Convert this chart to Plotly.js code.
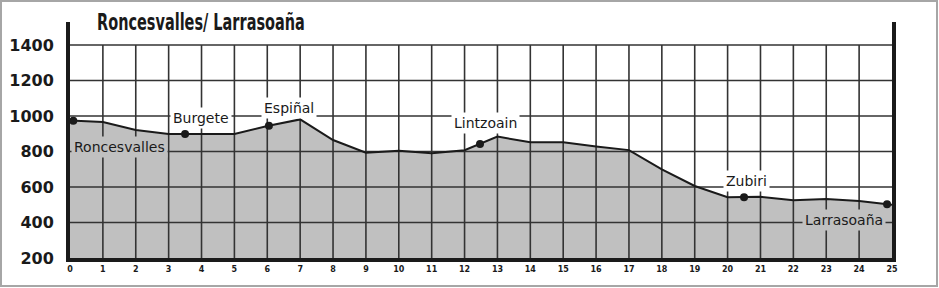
<!DOCTYPE html>
<html>
<head>
<meta charset="utf-8">
<script src="https://cdn.plot.ly/plotly-3.0.1.min.js"></script>
<style>
html,body{margin:0;padding:0;background:#fff;}
#wrap{position:relative;width:939px;height:288px;}
#chart{width:939px;height:288px;}
#frame{position:absolute;left:0;top:0;width:934px;height:283px;border:2px solid #a6a6a6;pointer-events:none;}
</style>
</head>
<body>
<div id="wrap"><div id="chart"></div><div id="frame"></div></div>
<script>
// ---- data ----
const chartTitle = "Roncesvalles/ Larrasoaña";
const km = [0, 1, 2, 3, 4, 5, 6, 7, 8, 9, 10, 11, 12, 13, 14, 15, 16, 17, 18, 19, 20, 21, 22, 23, 24, 25];
const elevation = [975, 966, 921, 899, 899, 899, 944, 981, 865, 793, 805, 790, 807, 884, 853, 852, 829, 808, 700, 606, 542, 545, 525, 532, 521, 500];
const stopNames = ["Roncesvalles", "Burgete", "Espiñal", "Lintzoain", "Zubiri", "Larrasoaña"];
const stopKm = [0.1, 3.5, 6.05, 12.47, 20.5, 24.85];
const stopElev = [973, 899, 946, 843, 543, 503];
const yTicks = [200, 400, 600, 800, 1000, 1200, 1400];
const xTicks = [0, 1, 2, 3, 4, 5, 6, 7, 8, 9, 10, 11, 12, 13, 14, 15, 16, 17, 18, 19, 20, 21, 22, 23, 24, 25];

// ---- label placement (style, not data) ----
const labelShift = [[46, -26], [16, 16], [20, 18], [5, 21], [2, 16], [-43, -16]];
const labelBg = ["#c0c0c0", "#ffffff", "#ffffff", "#ffffff", "#ffffff", "#c0c0c0"];

const xMin = xTicks[0], xMax = xTicks[xTicks.length - 1];
const yMin = yTicks[0], yGridTop = yTicks[yTicks.length - 1];

// grid built from the tick arrays
const gx = [], gy = [];
xTicks.slice(1, -1).forEach(t => { gx.push(t, t, null); gy.push(yMin, yGridTop, null); });
yTicks.slice(1).forEach(t => { gx.push(xMin, xMax, null); gy.push(t, t, null); });

const traces = [
  {x: km, y: elevation, mode: 'lines', fill: 'tozeroy', fillcolor: '#c0c0c0',
   line: {width: 0, color: '#c0c0c0'}, hoverinfo: 'skip'},
  {x: gx, y: gy, mode: 'lines', line: {color: '#333333', width: 1.6}, hoverinfo: 'skip', connectgaps: false},
  {x: km, y: elevation, mode: 'lines', line: {color: '#1a1a1a', width: 2}},
  {x: stopKm, y: stopElev, mode: 'markers', marker: {color: '#1a1a1a', size: 8}}
];

const annotations = stopNames.map((n, i) => ({
  x: stopKm[i], y: stopElev[i], xref: 'x', yref: 'y', text: n, showarrow: false,
  xshift: labelShift[i][0], yshift: labelShift[i][1],
  font: {family: 'DejaVu Sans', size: 14, color: '#1a1a1a'},
  bgcolor: labelBg[i], borderpad: 2
}));
annotations.push({
  xref: 'paper', yref: 'paper', x: 0.0304, y: 1.0, xanchor: 'left', yanchor: 'middle',
  text: '<b>' + chartTitle + '</b>', showarrow: false, name: 'maintitle',
  font: {family: 'DejaVu Sans Condensed, DejaVu Sans', size: 23, color: '#1a1a1a'}
});

const layout = {
  width: 939, height: 288,
  margin: {l: 70, r: 47, t: 22, b: 30},
  paper_bgcolor: '#ffffff', plot_bgcolor: '#ffffff',
  showlegend: false,
  xaxis: {range: [xMin, xMax], tickvals: xTicks, ticktext: xTicks.map(String),
    showgrid: false, zeroline: false, showline: true, linewidth: 4, linecolor: '#1a1a1a',
    ticks: '', tickfont: {family: 'DejaVu Sans', size: 8, color: '#1a1a1a', weight: 'bold'}},
  yaxis: {range: [yMin, 1530], tickvals: yTicks, ticktext: yTicks.map(String),
    showgrid: false, zeroline: false, showline: true, mirror: true, linewidth: 4, linecolor: '#1a1a1a',
    ticks: '', ticklabelstandoff: 9,
    tickfont: {family: 'DejaVu Sans', size: 16, color: '#1a1a1a', weight: 'bold'}},
  annotations: annotations
};

function squeezeTitle() {
  const texts = document.querySelectorAll('#chart .annotation-text');
  texts.forEach(t => {
    if (t.textContent.indexOf('Larrasoaña') >= 0 && t.textContent.indexOf('/') >= 0) {
      const bb = t.getBBox();
      const sx = 0.70;
      t.setAttribute('transform', 'matrix(' + sx + ',0,0,1,' + (bb.x * (1 - sx)) + ',0)');
    }
  });
}

Plotly.newPlot('chart', traces, layout, {staticPlot: true}).then(squeezeTitle);
</script>
</body>
</html>
